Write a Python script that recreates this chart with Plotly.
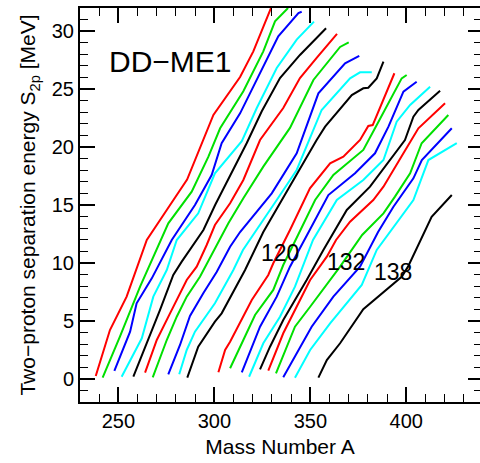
import plotly.graph_objects as go

# ---- data: S2p (MeV) vs mass number A, one list pair per chain ----
line01_A = [238.2, 245.6, 254.3, 264.8, 275.2, 285.8, 299.5, 313.4, 320.3, 330.5]
line01_S = [0.24, 4.21, 7.09, 11.98, 14.57, 17.2, 22.77, 26.05, 28.26, 32.4]
line02_A = [241.8, 250.8, 261.3, 276.0, 288.2, 296.9, 303.0, 315.1, 325.5, 331.6, 338.4]
line02_S = [0.10, 3.64, 7.95, 13.42, 16.15, 19.17, 21.62, 24.81, 28.26, 30.85, 32.0]
line03_A = [247.9, 256.1, 259.5, 267.4, 277.8, 289.9, 298.6, 303.8, 313.4, 333.3, 343.8, 345.5]
line03_S = [0.68, 4.07, 6.52, 8.67, 11.98, 15.0, 17.59, 20.33, 22.91, 29.56, 31.57, 31.68]
line04_A = [251.7, 262.2, 268.2, 275.2, 280.4, 291.6, 300.3, 314.3, 322.1, 332.5, 342.9, 351.9]
line04_S = [0.18, 3.50, 7.09, 9.39, 11.98, 14.28, 17.74, 20.50, 23.37, 26.82, 29.27, 30.82]
line05_A = [257.8, 264.8, 271.7, 278.6, 283.0, 294.3, 300.4, 316.9, 324.7, 334.2, 344.6, 358.2]
line05_S = [0.18, 3.07, 5.94, 8.96, 10.11, 12.84, 15.0, 20.35, 23.09, 25.96, 27.95, 30.25]
line06_A = [263.9, 270.0, 276.9, 285.6, 290.8, 296.0, 300.3, 308.2, 315.1, 323.8, 335.9, 344.6, 353.3, 363.9]
line06_S = [0.53, 3.35, 5.65, 8.53, 9.68, 11.55, 13.27, 15.15, 17.16, 20.61, 23.37, 25.96, 27.69, 29.76]
line07_A = [267.9, 275.2, 280.4, 285.6, 292.5, 297.7, 307.3, 315.1, 325.5, 339.4, 351.6, 365.5, 370.0]
line07_S = [0.13, 3.35, 5.36, 7.09, 8.81, 10.40, 13.42, 15.58, 18.31, 21.65, 25.79, 28.64, 29.04]
line08_A = [276.0, 282.1, 287.3, 294.3, 301.2, 308.2, 313.4, 329.9, 342.9, 354.2, 368.1, 375.5]
line08_S = [0.39, 2.92, 5.42, 7.41, 9.22, 11.40, 12.67, 16.01, 19.46, 24.64, 27.23, 27.86]
line09_A = [281.7, 285.6, 289.9, 300.3, 309.9, 314.9, 332.5, 342.9, 355.9, 370.7, 375.9, 382.0]
line09_S = [0.39, 2.49, 4.07, 6.52, 9.39, 11.12, 15.43, 18.02, 23.20, 25.93, 26.45, 26.45]
line10_A = [285.9, 291.6, 300.3, 303.8, 316.0, 325.5, 353.3, 357.7, 371.6, 377.6, 380.2, 384.6, 388.1]
line10_S = [0.10, 2.77, 4.93, 5.65, 9.39, 12.67, 20.61, 21.76, 24.49, 25.07, 25.12, 25.93, 27.37]
line11_A = [302.1, 305.6, 308.2, 319.5, 328.1, 330.7, 339.4, 349.8, 360.3, 367.2, 375.9, 380.2, 382.5, 393.8]
line11_S = [0.56, 2.49, 3.20, 6.80, 8.96, 9.97, 12.84, 16.44, 18.60, 19.17, 20.61, 21.82, 21.90, 26.37]
line12_A = [308.2, 313.4, 321.2, 330.7, 335.9, 343.6, 352.5, 362.0, 377.6, 384.6, 397.6, 400.2]
line12_S = [0.91, 2.77, 5.51, 7.67, 9.82, 12.41, 15.43, 17.59, 19.75, 21.90, 25.93, 26.22]
line13_A = [314.3, 323.8, 332.5, 339.4, 348.3, 359.4, 373.3, 383.7, 390.7, 398.5, 405.4]
line13_S = [0.56, 4.50, 7.09, 9.68, 12.41, 15.86, 17.74, 19.46, 21.76, 24.78, 25.64]
line14_A = [318.1, 325.5, 334.2, 342.0, 351.4, 363.8, 377.6, 388.1, 395.0, 402.0, 412.4]
line14_S = [0.18, 3.07, 5.36, 7.95, 11.98, 15.43, 17.16, 18.88, 22.19, 23.63, 25.21]
line15_A = [323.8, 329.0, 335.9, 348.1, 356.8, 369.0, 381.1, 388.9, 399.3, 403.7, 406.3, 417.6]
line15_S = [0.82, 2.77, 5.08, 8.53, 11.12, 14.57, 16.58, 18.31, 20.61, 22.62, 23.20, 24.86]
line16_A = [328.1, 335.9, 349.9, 358.6, 363.4, 370.7, 382.8, 388.1, 398.5, 406.3, 420.2]
line16_S = [0.70, 3.93, 8.53, 10.54, 11.98, 13.56, 15.43, 16.58, 19.46, 21.62, 23.78]
line17_A = [332.1, 342.0, 349.9, 365.5, 377.0, 388.1, 394.1, 402.0, 408.0, 421.9]
line17_S = [0.48, 4.50, 6.22, 9.68, 12.41, 14.28, 15.72, 17.74, 20.33, 22.77]
line18_A = [335.9, 344.6, 350.7, 362.0, 375.9, 385.3, 393.3, 403.7, 408.1, 423.7]
line18_S = [0.13, 2.77, 4.50, 7.09, 9.68, 12.67, 14.85, 17.30, 18.88, 21.62]
line19_A = [342.0, 349.9, 360.3, 369.0, 376.8, 384.6, 392.4, 403.7, 411.5, 426.3]
line19_S = [0.10, 2.49, 4.79, 6.52, 8.10, 11.12, 12.84, 15.43, 18.88, 20.33]
line20_A = [354.2, 358.6, 365.5, 377.6, 397.6, 400.9, 413.2, 423.7]
line20_S = [0.10, 1.62, 3.07, 6.00, 8.81, 9.68, 13.99, 15.86]

palette = ["#ff0000", "#00e000", "#0000ff", "#00ffff", "#000000"]

label_text = ["120", "132", "138"]
label_A = [334.2, 368.6, 393.3]
label_S = [10.83, 10.08, 9.22]

x_range = [230, 438.4]
y_range = [-2, 32]

chains = [
    (line01_A, line01_S), (line02_A, line02_S), (line03_A, line03_S), (line04_A, line04_S),
    (line05_A, line05_S), (line06_A, line06_S), (line07_A, line07_S), (line08_A, line08_S),
    (line09_A, line09_S), (line10_A, line10_S), (line11_A, line11_S), (line12_A, line12_S),
    (line13_A, line13_S), (line14_A, line14_S), (line15_A, line15_S), (line16_A, line16_S),
    (line17_A, line17_S), (line18_A, line18_S), (line19_A, line19_S), (line20_A, line20_S),
]

FONT = "Liberation Sans, Arial, sans-serif"

fig = go.Figure()
for i, (a, s) in enumerate(chains):
    fig.add_trace(go.Scatter(x=a, y=s, mode="lines",
                             line=dict(color=palette[i % 5], width=2),
                             showlegend=False, hoverinfo="skip"))

# invisible trace to anchor the right-hand tick axis
fig.add_trace(go.Scatter(x=[], y=[], yaxis="y2", showlegend=False))

for t, a, s in zip(label_text, label_A, label_S):
    fig.add_annotation(x=a, y=s, text=t, showarrow=False,
                       font=dict(family=FONT, size=23, color="black"))

fig.add_annotation(x=276.9, y=27.4, text="DD\u2212ME1", showarrow=False,
                   font=dict(family=FONT, size=30, color="black"))

axis_common = dict(showgrid=False, zeroline=False, ticks="inside",
                   tickcolor="black", tickwidth=1.5, linecolor="black", linewidth=2)

fig.update_layout(
    width=480, height=463,
    margin=dict(l=80, r=0, t=8, b=61),
    paper_bgcolor="white", plot_bgcolor="white",
    font=dict(family=FONT, size=20, color="black"),
    xaxis=dict(range=x_range, tickvals=[250, 300, 350, 400], ticklen=15,
               showline=True, mirror="ticks",
               minor=dict(dtick=10, tick0=0, ticklen=8, ticks="inside", tickcolor="black", tickwidth=1),
               title=dict(text="Mass Number A", font=dict(size=21), standoff=8),
               tickfont=dict(size=20), **axis_common),
    yaxis=dict(range=y_range, tickvals=[0, 5, 10, 15, 20, 25, 30], ticklen=15,
               showline=True,
               minor=dict(dtick=1, tick0=0, ticklen=8, ticks="inside", tickcolor="black", tickwidth=1),
               title=dict(text="Two\u2212proton separation energy S<sub>2p</sub> [MeV]",
                          font=dict(size=21), standoff=10),
               tickfont=dict(size=20), **axis_common),
    yaxis2=dict(range=y_range, overlaying="y", side="right", showticklabels=False,
                tickvals=[0, 5, 10, 15, 20, 25, 30], ticklen=12, showline=False,
                showgrid=False, zeroline=False, ticks="inside", tickcolor="black", tickwidth=1.5,
                minor=dict(dtick=1, tick0=0, ticklen=6, ticks="inside", tickcolor="black", tickwidth=1)),
)

fig.write_html("out.html")
